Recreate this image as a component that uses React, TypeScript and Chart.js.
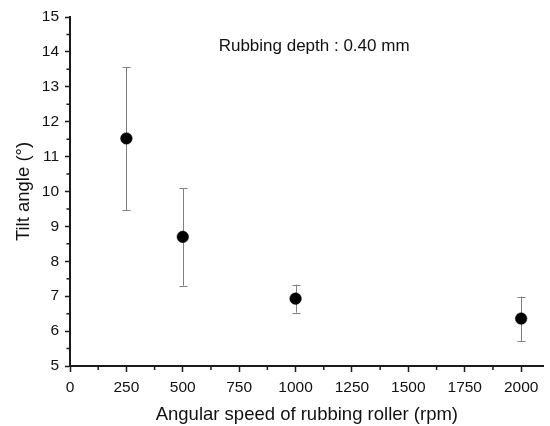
import React, { useEffect, useRef } from "react";
import { Chart, registerables } from "chart.js";

Chart.register(...registerables);

const speeds = [250, 500, 1000, 2000];
const tiltAngles = [11.52, 8.7, 6.93, 6.36];
const errLow = [9.47, 7.3, 6.53, 5.71];
const errHigh = [13.56, 10.1, 7.33, 6.99];

const xTicks = [0, 250, 500, 750, 1000, 1250, 1500, 1750, 2000];
const xMinorTicks = [125, 375, 625, 875, 1125, 1375, 1625, 1875];
const yTicks = [5, 6, 7, 8, 9, 10, 11, 12, 13, 14, 15];
const yMinorTicks = [5.5, 6.5, 7.5, 8.5, 9.5, 10.5, 11.5, 12.5, 13.5, 14.5];

const annotationText = "Rubbing depth : 0.40 mm";
const annotationPos = { x: 659, y: 14.16 };

const FONT = "'Liberation Sans', Arial, sans-serif";
const AXIS_COLOR = "#1a1a1a";

const extrasPlugin = {
  id: "extras",
  beforeDatasetsDraw(chart: any) {
    const { ctx, scales } = chart;
    const xs = scales.x;
    const ys = scales.y;
    ctx.save();
    ctx.strokeStyle = "#808080";
    ctx.lineWidth = 1;
    speeds.forEach((s, i) => {
      const px = Math.round(xs.getPixelForValue(s)) + 0.5;
      const top = ys.getPixelForValue(errHigh[i]);
      const bot = ys.getPixelForValue(errLow[i]);
      ctx.beginPath();
      ctx.moveTo(px, top);
      ctx.lineTo(px, bot);
      ctx.moveTo(px - 4, Math.round(top) + 0.5);
      ctx.lineTo(px + 4, Math.round(top) + 0.5);
      ctx.moveTo(px - 4, Math.round(bot) + 0.5);
      ctx.lineTo(px + 4, Math.round(bot) + 0.5);
      ctx.stroke();
    });
    ctx.restore();
  },
  afterDraw(chart: any) {
    const { ctx, scales, chartArea } = chart;
    const xs = scales.x;
    const ys = scales.y;
    ctx.save();
    ctx.strokeStyle = AXIS_COLOR;
    ctx.lineWidth = 1.5;
    ctx.beginPath();
    xMinorTicks.forEach((v) => {
      const px = xs.getPixelForValue(v);
      ctx.moveTo(px, chartArea.bottom);
      ctx.lineTo(px, chartArea.bottom + 4);
    });
    yMinorTicks.forEach((v) => {
      const py = ys.getPixelForValue(v);
      ctx.moveTo(chartArea.left, py);
      ctx.lineTo(chartArea.left - 3.5, py);
    });
    ctx.stroke();
    ctx.fillStyle = "#111";
    ctx.font = `17px ${FONT}`;
    ctx.textAlign = "left";
    ctx.textBaseline = "middle";
    ctx.fillText(
      annotationText,
      xs.getPixelForValue(annotationPos.x),
      ys.getPixelForValue(annotationPos.y)
    );
    ctx.restore();
  },
};

export default function App() {
  const ref = useRef<HTMLCanvasElement | null>(null);
  useEffect(() => {
    if (!ref.current) return;
    const chart = new Chart(ref.current, {
      type: "scatter",
      data: {
        datasets: [
          {
            data: speeds.map((s, i) => ({ x: s, y: tiltAngles[i] })),
            backgroundColor: "#000",
            borderColor: "#000",
            pointRadius: 5.8,
            pointBorderWidth: 0.5,
            showLine: false,
          },
        ],
      },
      options: {
        responsive: false,
        animation: false,
        layout: { padding: { top: 17, right: 2, left: 0, bottom: 0 } },
        plugins: { legend: { display: false }, tooltip: { enabled: false } },
        scales: {
          x: {
            type: "linear",
            min: 0,
            max: 2100,
            afterBuildTicks: (scale: any) => {
              scale.ticks = xTicks.map((v) => ({ value: v }));
            },
            afterFit: (scale: any) => {
              scale.height = 60;
            },
            grid: {
              drawOnChartArea: false,
              drawTicks: true,
              tickLength: 6,
              tickColor: AXIS_COLOR,
              tickWidth: 1.5,
            },
            border: { display: true, color: AXIS_COLOR, width: 2 },
            ticks: {
              color: "#111",
              font: { family: FONT, size: 15.5 },
              padding: 6,
              maxRotation: 0,
              autoSkip: false,
              callback: (v: any) => String(v),
            },
            title: {
              display: true,
              text: "Angular speed of rubbing roller (rpm)",
              color: "#111",
              font: { family: FONT, size: 18.5 },
              padding: { top: 0, bottom: 0 },
            },
          },
          y: {
            type: "linear",
            min: 5,
            max: 15,
            afterBuildTicks: (scale: any) => {
              scale.ticks = yTicks.map((v) => ({ value: v }));
            },
            afterFit: (scale: any) => {
              scale.width = 70;
            },
            grid: {
              drawOnChartArea: false,
              drawTicks: true,
              tickLength: 5,
              tickColor: AXIS_COLOR,
              tickWidth: 1.5,
            },
            border: { display: true, color: AXIS_COLOR, width: 2 },
            ticks: {
              color: "#111",
              font: { family: FONT, size: 15.5 },
              padding: 6,
              autoSkip: false,
              callback: (v: any) => String(v),
            },
            title: {
              display: true,
              text: "Tilt angle (°)",
              color: "#111",
              font: { family: FONT, size: 18.5 },
              padding: { top: 13, bottom: 0 },
            },
          },
        },
      },
      plugins: [extrasPlugin],
    });
    return () => chart.destroy();
  }, []);
  return (
    <div style={{ position: "fixed", left: 0, top: 0, width: 550, height: 426, background: "#fff" }}>
      <canvas ref={ref} width={550} height={426} />
    </div>
  );
}
